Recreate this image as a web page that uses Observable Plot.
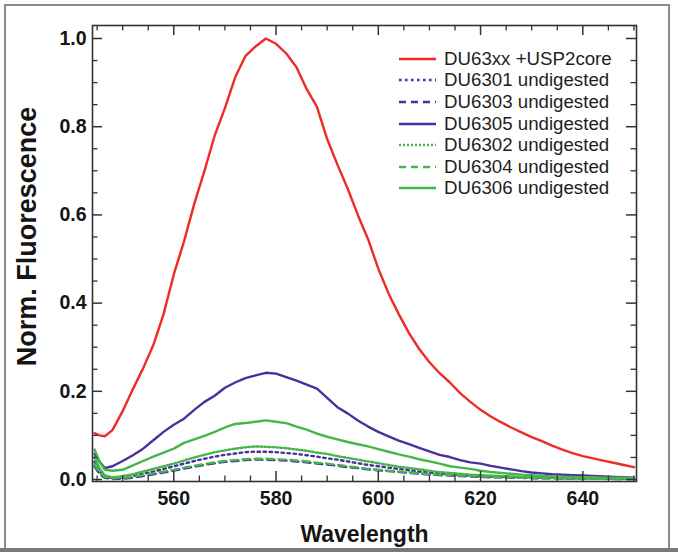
<!DOCTYPE html>
<html>
<head>
<meta charset="utf-8">
<script src="https://cdn.jsdelivr.net/npm/d3@7"></script>
<script src="https://cdn.jsdelivr.net/npm/@observablehq/plot@0.6"></script>
<style>
  html, body { margin: 0; padding: 0; background: #fff; }
  #wrap { position: relative; width: 678px; height: 552px; overflow: hidden; font-family: "Liberation Sans", Arial, sans-serif; }
  #border { position: absolute; left: 4px; top: 4px; width: 662px; height: 542px; border: 2px solid #8c8c8c; box-sizing: content-box; }
  #band { position: absolute; left: 0; top: 548px; width: 678px; height: 4px; background: #7a7a7a; }
  #legend { position: absolute; left: 398px; top: 48px; }
  .row { height: 21.6px; display: flex; align-items: center; font-size: 18.7px; color: #1e1e1e; white-space: nowrap; }
  .row svg { width: 40px; height: 10px; margin-right: 6px; }
</style>
</head>
<body>
<div id="wrap">
  <div id="chart"></div>
  <div id="border"></div>
  <div id="band"></div>
  <div id="legend"></div>
</div>
<script>
// Wavelength grid (nm)
const wavelengths = [544.5, 545.5, 546.5, 548, 550, 552, 554, 556, 558, 560, 562, 564, 566, 568, 570, 572, 574, 576, 578, 580, 582, 584, 586, 588, 590, 592, 594, 596, 598, 600, 602, 604, 606, 608, 610, 612, 614, 616, 618, 620, 622, 624, 626, 628, 630, 632, 634, 636, 638, 640, 642, 644, 646, 648, 650];

const du63xxUSP2 = [0.105, 0.100, 0.098, 0.112, 0.155, 0.205, 0.252, 0.305, 0.375, 0.465, 0.540, 0.625, 0.700, 0.780, 0.842, 0.912, 0.960, 0.982, 1.000, 0.988, 0.966, 0.935, 0.885, 0.845, 0.772, 0.714, 0.660, 0.600, 0.545, 0.478, 0.422, 0.375, 0.332, 0.296, 0.266, 0.241, 0.220, 0.196, 0.176, 0.158, 0.143, 0.130, 0.118, 0.107, 0.096, 0.087, 0.077, 0.068, 0.060, 0.053, 0.048, 0.043, 0.038, 0.033, 0.028];
const du6301 = [0.040, 0.018, 0.006, 0.003, 0.004, 0.008, 0.013, 0.018, 0.024, 0.030, 0.036, 0.042, 0.047, 0.052, 0.056, 0.059, 0.062, 0.063, 0.063, 0.062, 0.060, 0.058, 0.055, 0.052, 0.048, 0.045, 0.041, 0.037, 0.033, 0.030, 0.027, 0.024, 0.021, 0.018, 0.016, 0.014, 0.012, 0.010, 0.009, 0.008, 0.007, 0.006, 0.006, 0.005, 0.005, 0.004, 0.004, 0.003, 0.003, 0.003, 0.003, 0.002, 0.002, 0.002, 0.002];
const du6303 = [0.030, 0.012, 0.004, 0.001, 0.002, 0.004, 0.008, 0.012, 0.016, 0.020, 0.025, 0.029, 0.033, 0.037, 0.040, 0.042, 0.044, 0.045, 0.045, 0.044, 0.043, 0.041, 0.039, 0.036, 0.034, 0.031, 0.028, 0.026, 0.023, 0.021, 0.019, 0.017, 0.015, 0.013, 0.011, 0.010, 0.009, 0.008, 0.007, 0.006, 0.005, 0.005, 0.004, 0.004, 0.003, 0.003, 0.003, 0.002, 0.002, 0.002, 0.002, 0.002, 0.001, 0.001, 0.001];
const du6305 = [0.058, 0.040, 0.026, 0.030, 0.042, 0.055, 0.070, 0.089, 0.108, 0.124, 0.138, 0.158, 0.176, 0.190, 0.208, 0.220, 0.230, 0.236, 0.242, 0.240, 0.232, 0.224, 0.215, 0.206, 0.185, 0.164, 0.150, 0.134, 0.120, 0.108, 0.098, 0.088, 0.080, 0.072, 0.064, 0.056, 0.051, 0.044, 0.039, 0.036, 0.031, 0.027, 0.023, 0.019, 0.016, 0.014, 0.012, 0.011, 0.010, 0.009, 0.008, 0.007, 0.006, 0.005, 0.004];
const du6302 = [0.050, 0.025, 0.010, 0.005, 0.008, 0.012, 0.018, 0.024, 0.030, 0.036, 0.043, 0.050, 0.056, 0.062, 0.066, 0.070, 0.073, 0.075, 0.074, 0.073, 0.071, 0.068, 0.065, 0.061, 0.058, 0.053, 0.049, 0.045, 0.041, 0.037, 0.033, 0.029, 0.026, 0.023, 0.020, 0.017, 0.015, 0.013, 0.011, 0.010, 0.009, 0.008, 0.007, 0.006, 0.006, 0.005, 0.005, 0.004, 0.004, 0.004, 0.003, 0.003, 0.003, 0.003, 0.003];
const du6304 = [0.035, 0.015, 0.006, 0.003, 0.004, 0.006, 0.010, 0.014, 0.018, 0.022, 0.027, 0.031, 0.035, 0.039, 0.042, 0.044, 0.046, 0.047, 0.047, 0.046, 0.045, 0.043, 0.041, 0.038, 0.036, 0.033, 0.030, 0.027, 0.024, 0.022, 0.020, 0.018, 0.016, 0.014, 0.012, 0.011, 0.010, 0.009, 0.008, 0.007, 0.006, 0.005, 0.005, 0.004, 0.004, 0.003, 0.003, 0.003, 0.002, 0.002, 0.002, 0.002, 0.002, 0.002, 0.002];
const du6306 = [0.068, 0.040, 0.022, 0.020, 0.022, 0.032, 0.042, 0.052, 0.061, 0.070, 0.083, 0.091, 0.099, 0.108, 0.118, 0.126, 0.128, 0.131, 0.134, 0.131, 0.128, 0.120, 0.113, 0.104, 0.097, 0.091, 0.085, 0.080, 0.075, 0.069, 0.063, 0.057, 0.052, 0.046, 0.041, 0.036, 0.030, 0.027, 0.024, 0.020, 0.017, 0.015, 0.013, 0.011, 0.010, 0.008, 0.007, 0.006, 0.006, 0.005, 0.005, 0.004, 0.004, 0.004, 0.004];

const seriesNames = ["DU63xx +USP2core", "DU6301 undigested", "DU6303 undigested", "DU6305 undigested", "DU6302 undigested", "DU6304 undigested", "DU6306 undigested"];
const seriesValues = [du63xxUSP2, du6301, du6303, du6305, du6302, du6304, du6306];
const seriesColors = ["#ee2b25", "#4b2f9e", "#4b2f9e", "#4b2f9e", "#45b64a", "#45b64a", "#45b64a"];
const seriesDash = [null, "2.5,3.5", "7,5", null, "2,2", "7,5", null];

const xMajorTicks = [560, 580, 600, 620, 640];
const xMinorTicks = [545, 550, 555, 565, 570, 575, 585, 590, 595, 605, 610, 615, 625, 630, 635, 645, 650];
const yMajorTicks = [0, 0.2, 0.4, 0.6, 0.8, 1.0];
const yMinorTicks = [0.05, 0.1, 0.15, 0.25, 0.3, 0.35, 0.45, 0.5, 0.55, 0.65, 0.7, 0.75, 0.85, 0.9, 0.95];

const W = 678, H = 552;
const mL = 92, mR = 42, mT = 25, mB = 71;
const fw = W - mL - mR, fh = H - mT - mB;
const axisColor = "#333";
const textColor = "#151515";

const lineMarks = seriesNames.map((name, i) =>
  Plot.lineY(wavelengths.map((w, j) => ({wl: w, v: seriesValues[i][j]})), {
    x: "wl", y: "v",
    stroke: seriesColors[i],
    strokeWidth: 2.4,
    strokeDasharray: seriesDash[i] ?? undefined,
    curve: "linear"
  })
);

const chart = Plot.plot({
  width: W, height: H,
  marginLeft: mL, marginRight: mR, marginTop: mT, marginBottom: mB,
  style: {fontFamily: "'Liberation Sans', Arial, sans-serif", background: "transparent"},
  x: {domain: [544.1, 650.5]},
  y: {domain: [-0.0045, 1.0295]},
  marks: [
    ...lineMarks,
    // bottom ticks
    Plot.tickX(xMajorTicks, {x: d => d, insetTop: fh - 10, stroke: axisColor, strokeWidth: 1.5}),
    Plot.tickX(xMinorTicks, {x: d => d, insetTop: fh - 5.5, stroke: axisColor, strokeWidth: 1.3}),
    // top ticks
    Plot.tickX(xMajorTicks, {x: d => d, insetBottom: fh - 10, stroke: axisColor, strokeWidth: 1.5}),
    Plot.tickX(xMinorTicks, {x: d => d, insetBottom: fh - 5.5, stroke: axisColor, strokeWidth: 1.3}),
    // left ticks
    Plot.tickY(yMajorTicks, {y: d => d, insetRight: fw - 10, stroke: axisColor, strokeWidth: 1.5}),
    Plot.tickY(yMinorTicks, {y: d => d, insetRight: fw - 5.5, stroke: axisColor, strokeWidth: 1.3}),
    // right ticks
    Plot.tickY(yMajorTicks, {y: d => d, insetLeft: fw - 10, stroke: axisColor, strokeWidth: 1.5}),
    Plot.tickY(yMinorTicks, {y: d => d, insetLeft: fw - 5.5, stroke: axisColor, strokeWidth: 1.3}),
    Plot.frame({stroke: axisColor, strokeWidth: 1.6}),
    Plot.axisX({ticks: xMajorTicks, tickSize: 0, tickPadding: 10, fontSize: 19.5, fontWeight: "bold", fill: textColor, label: null, tickFormat: d3.format("d")}),
    Plot.axisY({ticks: yMajorTicks, tickSize: 0, tickPadding: 6, fontSize: 19.5, fontWeight: "bold", fill: textColor, label: null, tickFormat: d3.format(".1f")}),
    Plot.text(["Wavelength"], {frameAnchor: "bottom", dy: 53, fontSize: 23, fontWeight: "bold", fill: textColor, lineAnchor: "middle"}),
    Plot.text(["Norm. Fluorescence"], {frameAnchor: "left", dx: -65, dy: -17, rotate: -90, fontSize: 27, fontWeight: "bold", fill: textColor, textAnchor: "middle", lineAnchor: "middle"})
  ]
});
document.getElementById("chart").appendChild(chart);

// Legend
const legend = document.getElementById("legend");
seriesNames.forEach((name, i) => {
  const row = document.createElement("div");
  row.className = "row";
  const dash = seriesDash[i] ? `stroke-dasharray="${seriesDash[i]}"` : "";
  row.innerHTML = `<svg viewBox="0 0 40 10"><line x1="1" y1="5" x2="38" y2="5" stroke="${seriesColors[i]}" stroke-width="2.6" ${dash}/></svg><span>${name}</span>`;
  legend.appendChild(row);
});
</script>
</body>
</html>
